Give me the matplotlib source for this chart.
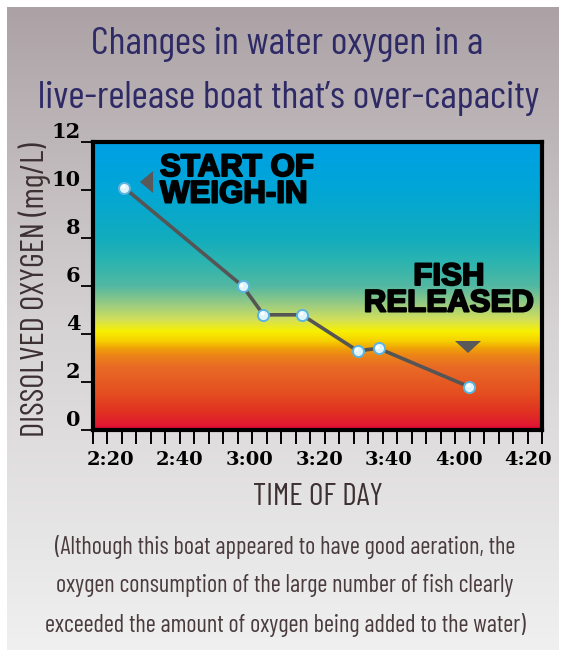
import numpy as np
import matplotlib
matplotlib.use("Agg")
import matplotlib.pyplot as plt
from matplotlib.colors import LinearSegmentedColormap, to_rgb
from matplotlib import patheffects as pe
from matplotlib.patches import Polygon
from matplotlib import font_manager

# ---- data ----
times = ["2:24", "2:58", "3:04", "3:15", "3:31", "3:37", "4:03"]
oxygen = [10.1, 6.0, 4.8, 4.8, 3.3, 3.4, 1.8]
x_tick_labels = ["2:20", "2:40", "3:00", "3:20", "3:40", "4:00", "4:20"]
y_ticks = [0, 2, 4, 6, 8, 10, 12]


def to_min(t):
    h, m = t.split(":")
    return int(h) * 60 + int(m)


t_min = np.array([to_min(t) for t in times], dtype=float)
x_major = np.array([to_min(t) for t in x_tick_labels], dtype=float)

# narrow face for headings; fall back to DejaVu Sans Condensed
installed = {f.name for f in font_manager.fontManager.ttflist}
if "Barlow Condensed" in installed:
    cond = dict(family="Barlow Condensed")
    SIZES = dict(title=28.5, label=23.5, xlabel=22.5, foot=17.5, foot_ls=1.83)
else:
    cond = dict(family="DejaVu Sans", fontstretch="condensed")
    SIZES = dict(title=22, label=17, xlabel=17, foot=13, foot_ls=2.2)

W, H = 565, 656
fig = plt.figure(figsize=(W / 100, H / 100), dpi=100)

# ---- page background gradient ----
bg = fig.add_axes([7 / W, 1 - 650 / H, (559 - 7) / W, (650 - 7) / H])
bg.set_axis_off()
top_c = np.array(to_rgb("#aca2a6"))
mid_c = np.array(to_rgb("#d6d3d4"))
bot_c = np.array(to_rgb("#f0f0f0"))
s = np.linspace(0, 1, 256)[:, None]
grad = np.where(s < 0.5, top_c + (mid_c - top_c) * (s / 0.5),
                mid_c + (bot_c - mid_c) * ((s - 0.5) / 0.5))
bg.imshow(grad[:, None, :], aspect="auto", extent=[0, 1, 0, 1])
bg.set_xlim(0, 1)
bg.set_ylim(0, 1)

# ---- main plot area ----
left, right, top, bottom = 93, 542, 142, 430
ax = fig.add_axes([left / W, 1 - bottom / H, (right - left) / W, (bottom - top) / H])

xlim = (x_major[0] - 4.9, x_major[-1] + 3.9)
ax.set_xlim(*xlim)
ax.set_ylim(0, 12)

stops = [
    (0.0, "#d8002e"), (0.2 / 12, "#e01a30"), (0.7 / 12, "#e03022"),
    (1.5 / 12, "#e44e20"), (2.6 / 12, "#e86a26"), (3.1 / 12, "#ec8418"),
    (3.4 / 12, "#f0a208"), (3.7 / 12, "#f6d000"), (4.1 / 12, "#f8f000"),
    (4.6 / 12, "#d2e05a"), (5.2 / 12, "#9ccc80"), (6.0 / 12, "#52b8a2"),
    (7.0 / 12, "#2cb4b0"), (8.0 / 12, "#12acbe"), (10.0 / 12, "#02a6d6"),
    (1.0, "#00a0e6"),
]
cmap = LinearSegmentedColormap.from_list("oxy", stops)
vals = np.linspace(0, 1, 512)[:, None]
ax.imshow(vals, cmap=cmap, aspect="auto", origin="lower",
          extent=[xlim[0], xlim[1], 0, 12], zorder=0)

# data line and markers
ax.plot(t_min, oxygen, color="#555555", lw=2.6, zorder=3, solid_capstyle="round")
ax.plot(t_min, oxygen, "o", ms=8, mfc="#dff3fb", mec="#5ab4e0", mew=1.4, zorder=4)
ax.plot(t_min - 0.35, np.array(oxygen) + 0.06, "o", ms=2.8, mfc="white", mec="none", zorder=5)

for sp in ax.spines.values():
    sp.set_linewidth(3)
    sp.set_color("black")

# y axis ticks
ax.set_yticks(y_ticks)
ax.set_yticklabels([str(v) for v in y_ticks])
ax.tick_params(axis="y", direction="out", length=9, width=1.3, pad=0, colors="black")
for lbl in ax.get_yticklabels():
    lbl.set_fontfamily("DejaVu Serif")
    lbl.set_fontweight("bold")
    lbl.set_fontsize(15)
    lbl.set_verticalalignment("bottom")

# x axis ticks
ax.set_xticks(x_major)
ax.set_xticklabels(x_tick_labels)
ax.tick_params(axis="x", which="major", length=0, pad=15)
for lbl in ax.get_xticklabels():
    lbl.set_fontfamily("DejaVu Serif")
    lbl.set_fontweight("bold")
    lbl.set_fontsize(14)
minor = np.linspace(xlim[0], xlim[1], 32)
ax.set_xticks(minor, minor=True)
ax.tick_params(axis="x", which="minor", direction="out", length=10, width=1.4, colors="black")
ax.tick_params(axis="y", which="minor", length=0)

# annotation arrows
axes_to_data = ax.transData.inverted()


def px(xp, yp):
    return axes_to_data.transform(fig.transFigure.transform((xp / W, 1 - yp / H)))


tri1 = Polygon([px(140, 182), px(153, 171), px(153, 193)], closed=True,
               facecolor="#595959", edgecolor="none", zorder=5)
tri2 = Polygon([px(455, 341), px(481, 341), px(468, 353)], closed=True,
               facecolor="#595959", edgecolor="none", zorder=5)
ax.add_patch(tri1)
ax.add_patch(tri2)

heavy = [pe.withStroke(linewidth=1.4, foreground="black")]
fig.text(160 / W, 1 - 153 / H, "START OF\nWEIGH-IN", ha="left", va="top",
         fontsize=22.5, fontweight="bold", family="Liberation Sans",
         color="black", linespacing=0.85, path_effects=heavy)
fig.text(449 / W, 1 - 262 / H, "FISH\nRELEASED", ha="center", va="top",
         fontsize=22.5, fontweight="bold", family="Liberation Sans",
         color="black", linespacing=0.85, path_effects=heavy, multialignment="center")

# ---- text ----
fig.text(287 / W, 1 - 45 / H, "Changes in water oxygen in a", ha="center", va="center",
         fontsize=SIZES["title"], color="#2e2a66", **cond)
fig.text(289 / W, 1 - 98 / H, "live-release boat that\u2019s over-capacity", ha="center",
         va="center", fontsize=SIZES["title"], color="#2e2a66", **cond)

fig.text(35 / W, 1 - 290 / H, "DISSOLVED OXYGEN (mg/L)", rotation=90, ha="center",
         va="center", fontsize=SIZES["label"], color="#3c3032", **cond)
fig.text(318 / W, 1 - 497 / H, "TIME OF DAY", ha="center", va="center",
         fontsize=SIZES["xlabel"], color="#3c3032", **cond)

foot = ("(Although this boat appeared to have good aeration, the\n"
        "oxygen consumption of the large number of fish clearly\n"
        "exceeded the amount of oxygen being added to the water)")
fig.text(285 / W, 1 - 586 / H, foot, ha="center", va="center",
         fontsize=SIZES["foot"], color="#4a3c3e", linespacing=SIZES["foot_ls"], **cond)

fig.savefig("out.png", dpi=100)
